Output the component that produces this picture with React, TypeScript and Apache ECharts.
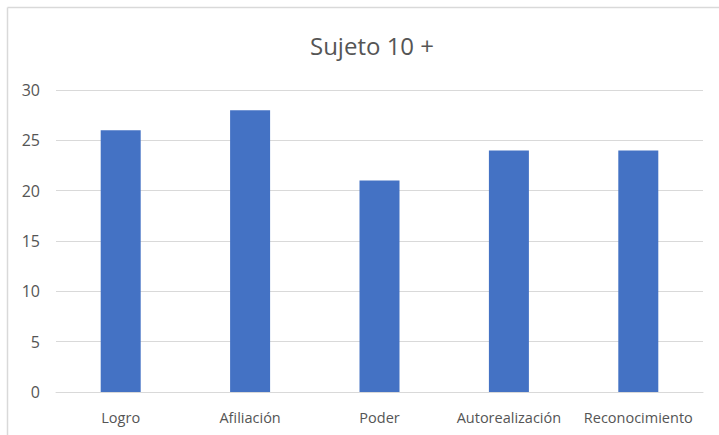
import React, { useEffect, useRef } from "react";
import * as echarts from "echarts";

const categories = ["Logro", "Afiliación", "Poder", "Autorealización", "Reconocimiento"];
const values = [26, 28, 21, 24, 24];
const titleText = "Sujeto 10 +";

export default function App() {
  const ref = useRef<HTMLDivElement>(null);
  useEffect(() => {
    if (!ref.current) return;
    const chart = echarts.init(ref.current, null, { renderer: "svg" });
    chart.setOption({
      animation: false,
      backgroundColor: "#ffffff",
      title: {
        text: titleText,
        left: 367,
        top: 28,
        textAlign: "center",
        textStyle: { color: "#555555", fontSize: 24, fontWeight: "normal", fontFamily: "Open Sans" },
      },
      graphic: [
        { type: "line", shape: { x1: 7.5, y1: 7.5, x2: 719, y2: 7.5 }, style: { stroke: "#d9d9d9", lineWidth: 1.5 } },
        { type: "line", shape: { x1: 7.5, y1: 7.5, x2: 7.5, y2: 435 }, style: { stroke: "#d9d9d9", lineWidth: 1.5 } },
      ],
      grid: { left: 56, right: 16, top: 90, bottom: 43, containLabel: false },
      xAxis: {
        type: "category",
        data: categories,
        axisLine: { show: true, lineStyle: { color: "#d9d9d9", width: 1 } },
        axisTick: { show: false },
        axisLabel: { color: "#555555", fontSize: 14.5, fontFamily: "Open Sans", margin: 18, interval: 0, hideOverlap: false },
      },
      yAxis: {
        type: "value",
        min: 0,
        max: 30,
        interval: 5,
        axisLine: { show: false },
        axisTick: { show: false },
        splitLine: { lineStyle: { color: "#d9d9d9", width: 1 } },
        axisLabel: { color: "#555555", fontSize: 16, fontFamily: "Open Sans", margin: 16 },
      },
      series: [
        {
          type: "bar",
          data: values,
          barWidth: 40,
          itemStyle: { color: "#4472C4" },
        },
      ],
    });
    return () => chart.dispose();
  }, []);
  return <div ref={ref} style={{ position: "absolute", left: 0, top: 0, width: 719, height: 435 }} />;
}
